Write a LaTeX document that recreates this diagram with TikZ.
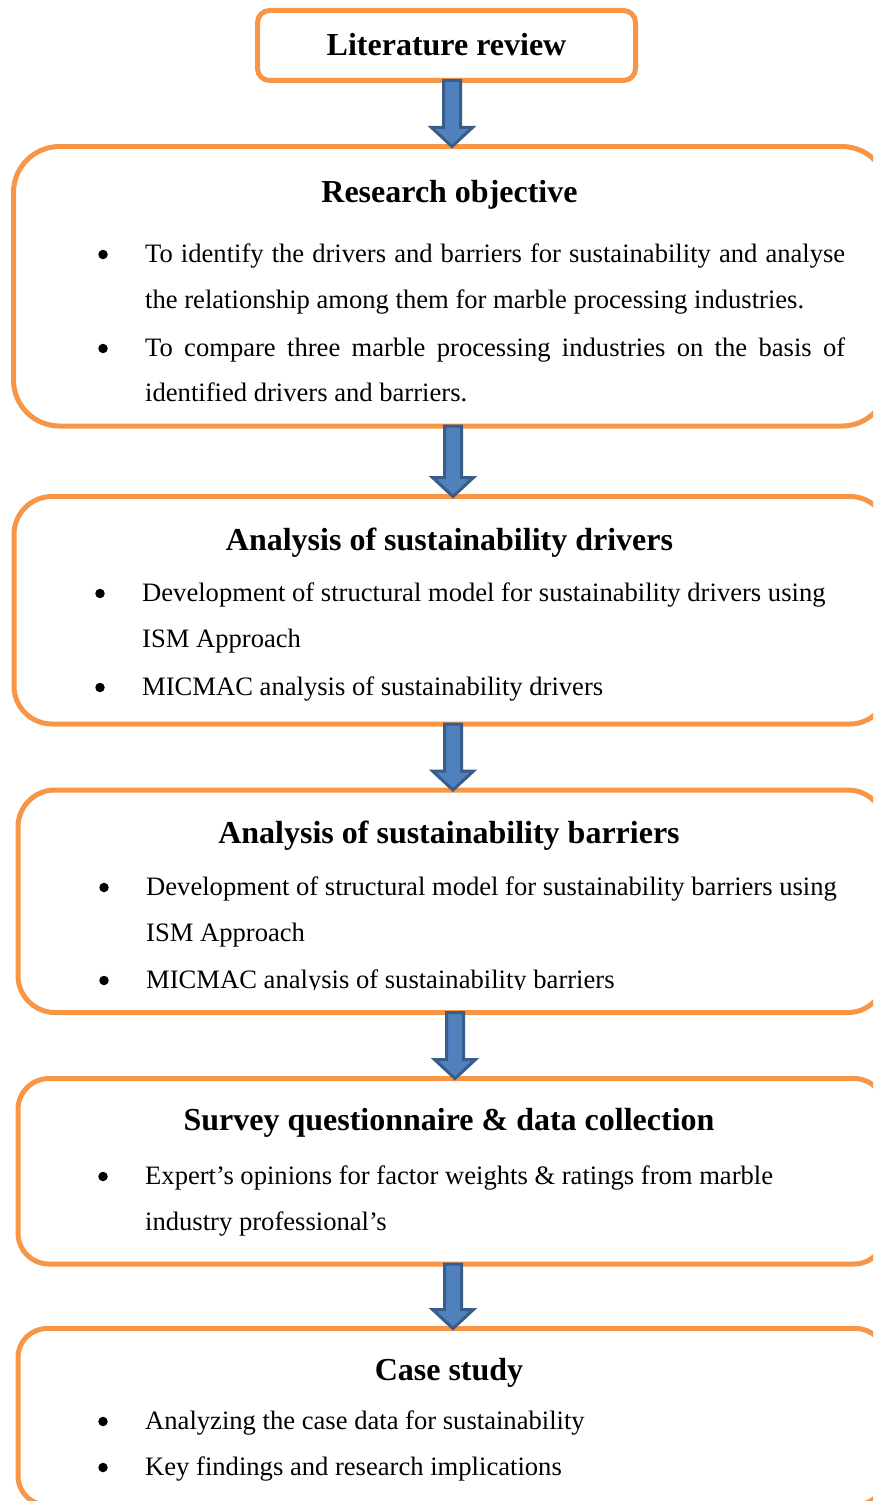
\documentclass[tikz,border=0pt]{standalone}
\usepackage{fontspec}
\setmainfont{Liberation Serif}
\usetikzlibrary{calc}
\definecolor{boxorange}{HTML}{F79646}
\definecolor{arrowfill}{HTML}{4F81BD}
\definecolor{arrowline}{HTML}{385D8A}
\tikzset{
  stagebox/.style={draw=boxorange, line width=5pt, fill=none, rectangle, inner sep=0pt, outer sep=0pt},
  flowarrow/.style={draw=arrowline, fill=arrowfill, line width=3pt, line join=miter},
  boxtitle/.style={anchor=base, inner sep=0pt, font=\fontsize{32}{36}\selectfont\bfseries},
  itemtext/.style={anchor=base west, inner sep=0pt, font=\fontsize{26.6}{30}\selectfont},
  itembullet/.style={circle, fill=black, inner sep=0pt, minimum size=9.5pt, yshift=7.5pt},
}
% block arrow from the bottom of one box to the top of the next, at horizontal position #1
\newcommand{\flowarrow}[3]{%
  \draw[flowarrow] let \p1=(#2.south), \p2=(#3.north) in
    (#1pt-8.5pt,\y1) -- (#1pt+8.5pt,\y1) -- (#1pt+8.5pt,\y2+19pt) -- (#1pt+20.5pt,\y2+19pt)
    -- (#1pt,\y2) -- (#1pt-20.5pt,\y2+19pt) -- (#1pt-8.5pt,\y2+19pt) -- cycle;}
\begin{document}
\begin{tikzpicture}[x=1pt,y=-1pt]
\useasboundingbox (0,0) rectangle (873,1501);
\clip (0,0) rectangle (873,1501);

% stage boxes
\node[stagebox, minimum width=378pt, minimum height=70pt, rounded corners=12pt] (b1) at (446.5,45.5) {};
\node[stagebox, minimum width=874.5pt, minimum height=279.5pt, rounded corners=46pt] (b2) at (450.75,286.25) {};
\node[stagebox, minimum width=874pt, minimum height=227.5pt, rounded corners=38pt] (b3) at (451,610.25) {};
\node[stagebox, minimum width=867pt, minimum height=222.5pt, rounded corners=37pt] (b4) at (451.5,901.25) {};
\node[stagebox, minimum width=867pt, minimum height=185.5pt, rounded corners=31pt] (b5) at (451.5,1171.25) {};
\node[stagebox, minimum width=867pt, minimum height=176.5pt, rounded corners=29pt] (b6) at (451.5,1416.75) {};

% arrows between stages
\flowarrow{452}{b1}{b2}
\flowarrow{453}{b2}{b3}
\flowarrow{453}{b3}{b4}
\flowarrow{455}{b4}{b5}
\flowarrow{453}{b5}{b6}

% Literature review
\node[boxtitle] (t1) at (446.5,56) {Literature review};

% Research objective
\node[boxtitle] (t2) at (449.5,202) {Research objective};
\node[itembullet] (u21) at (103,262) {};
\node[itemtext] (l21) at (145,262) {\makebox[700pt][s]{To identify the drivers and barriers for sustainability and analyse}};
\node[itemtext] (l22) at (145,308) {the relationship among them for marble processing industries.};
\node[itembullet] (u22) at (103,356) {};
\node[itemtext] (l23) at (145,356) {\makebox[700pt][s]{To compare three marble processing industries on the basis of}};
\node[itemtext] (l24) at (145,401) {identified drivers and barriers.};

% Analysis of sustainability drivers
\node[boxtitle] (t3) at (449.5,550) {Analysis of sustainability drivers};
\node[itembullet] (u31) at (100,601) {};
\node[itemtext] (l31) at (142,601) {Development of structural model for sustainability drivers using};
\node[itemtext] (l32) at (142,647) {ISM Approach};
\node[itembullet] (u32) at (100,695) {};
\node[itemtext] (l33) at (142,695) {MICMAC analysis of sustainability drivers};

% Analysis of sustainability barriers
\node[boxtitle] (t4) at (449,843) {Analysis of sustainability barriers};
\node[itembullet] (u41) at (104,895) {};
\node[itemtext] (l41) at (146,895) {Development of structural model for sustainability barriers using};
\node[itemtext] (l42) at (146,941) {ISM Approach};
\begin{scope}
  \clip (0,960) rectangle (873,989.5);
  \node[itembullet] (u42) at (104,988) {};
  \node[itemtext] (l43) at (146,988) {MICMAC analysis of sustainability barriers};
\end{scope}

% Survey questionnaire & data collection
\node[boxtitle] (t5) at (449,1130) {Survey questionnaire \& data collection};
\node[itembullet] (u51) at (103,1184) {};
\node[itemtext] (l51) at (145,1184) {Expert’s opinions for factor weights \& ratings from marble};
\node[itemtext] (l52) at (145,1230) {industry professional’s};

% Case study
\node[boxtitle] (t6) at (449,1380) {Case study};
\node[itembullet] (u61) at (103,1429) {};
\node[itemtext] (l61) at (145,1429) {Analyzing the case data for sustainability};
\node[itembullet] (u62) at (103,1475) {};
\node[itemtext] (l62) at (145,1475) {Key findings and research implications};
\end{tikzpicture}
\end{document}
